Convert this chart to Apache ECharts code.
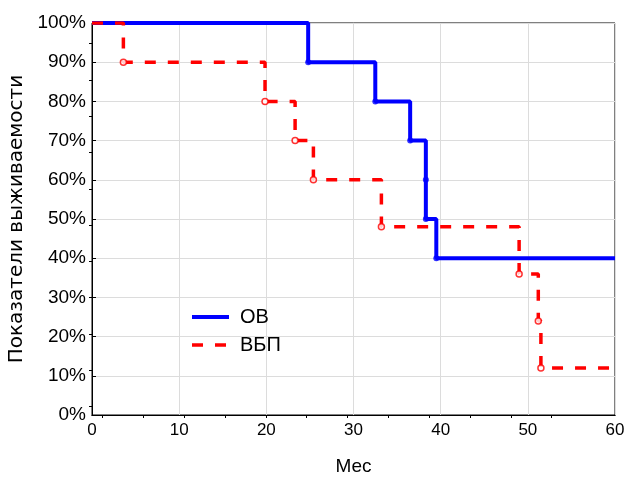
<!DOCTYPE html>
<html lang="ru">
<head>
    <meta charset="utf-8">
    <title>Выживаемость</title>
    <script src="https://cdn.jsdelivr.net/npm/echarts@6/dist/echarts.min.js"></script>
    <style>
        html, body { margin: 0; padding: 0; background: #fff; }
        #chartView { width: 627px; height: 478px; }
    </style>
</head>
<body>
    <div id="chartView"></div>

    <script>
        // моменты событий (мес) и доля выживших после события (%)
        var ovTimes = [24.8, 32.5, 36.5, 38.3, 38.3, 39.5];
        var ovSurv = [90, 80, 70, 60, 50, 40];
        var vbpTimes = [3.6, 19.85, 23.3, 25.4, 33.2, 49.0, 51.2, 51.5];
        var vbpSurv = [90, 80, 70, 60, 48, 36, 24, 12];
        var seriesNames = ['ОВ', 'ВБП'];
        var xMax = 60;

        // ступенчатая кривая Каплана-Мейера
        function stepLine(times, surv) {
            var pts = [[0, 100]];
            var prev = 100;
            for (var i = 0; i < times.length; i++) {
                pts.push([times[i], prev]);
                pts.push([times[i], surv[i]]);
                prev = surv[i];
            }
            pts.push([xMax, prev]);
            return pts;
        }

        function points(times, surv) {
            var pts = [];
            for (var i = 0; i < times.length; i++) {
                pts.push([times[i], surv[i]]);
            }
            return pts;
        }

        var font = 'Liberation Sans, Arial, sans-serif';
        var myChart = echarts.init(document.getElementById('chartView'), null, { renderer: 'canvas' });

        var option = {
            backgroundColor: '#fff',
            animation: false,
            textStyle: { fontFamily: font },
            grid: {
                left: 92, right: 12, top: 23, bottom: 63,
                outerBoundsMode: 'none',
                containLabel: false,
                show: true, borderColor: '#000', borderWidth: 1
            },
            legend: {
                orient: 'vertical',
                left: 185,
                top: 302,
                itemWidth: 37,
                itemHeight: 2,
                itemGap: 8,
                itemStyle: { opacity: 0 },
                lineStyle: { width: 'inherit' },
                textStyle: { fontSize: 20, color: '#000', fontFamily: font, padding: [0, 0, 0, 6] },
                data: seriesNames
            },
            xAxis: [{
                type: 'value',
                min: 0, max: xMax, interval: 10,
                name: 'Мес',
                nameLocation: 'middle',
                nameGap: 42,
                nameTextStyle: { fontSize: 19, color: '#000' },
                axisLine: { show: true, lineStyle: { color: '#000' } },
                axisTick: { show: false },
                axisLabel: { fontSize: 17, color: '#000', margin: 7 },
                splitLine: { show: true, lineStyle: { color: '#dcdcdc', width: 1 } }
            }, {
                type: 'value',
                position: 'top',
                min: 0, max: xMax,
                axisLine: { show: true, lineStyle: { color: '#000' } },
                axisTick: {
                    show: true, inside: true, length: 3, lineStyle: { color: '#000' },
                    customValues: [1.23, 5.9, 10.6, 15.3, 20.0, 24.6, 29.3, 34.0, 38.7, 43.4, 48.1, 52.7]
                },
                axisLabel: { show: false },
                splitLine: { show: false }
            }],
            yAxis: [{
                type: 'value',
                min: 0, max: 100, interval: 10,
                name: 'Показатели выживаемости',
                nameLocation: 'middle',
                nameGap: 61,
                nameTextStyle: { fontSize: 20, color: '#000', fontFamily: 'DejaVu Sans' },
                axisLine: { show: true, lineStyle: { color: '#000' } },
                axisTick: { show: true, inside: true, length: 4, lineStyle: { color: '#000' } },
                axisLabel: { fontSize: 19, color: '#000', margin: 6, formatter: '{value}%' },
                splitLine: { show: true, lineStyle: { color: '#dcdcdc', width: 1 } }
            }, {
                type: 'value',
                position: 'right',
                min: 0, max: 100,
                axisLine: { show: true, lineStyle: { color: '#000' } },
                axisTick: {
                    show: true, inside: true, length: 3, lineStyle: { color: '#000' },
                    customValues: [2.2, 11.5, 20.7, 30.0, 39.2, 48.5, 57.7, 67.0, 76.2, 85.5, 94.8]
                },
                axisLabel: { show: false },
                splitLine: { show: false }
            }],
            series: [{
                name: 'ОВ',
                type: 'line',
                symbol: 'none',
                z: 3,
                lineStyle: { color: '#0000ff', width: 4 },
                itemStyle: { color: '#0000ff' },
                data: stepLine(ovTimes, ovSurv)
            }, {
                name: 'ОВ-точки',
                type: 'scatter',
                symbol: 'circle',
                symbolSize: 6,
                z: 4,
                itemStyle: { color: '#0000ff' },
                data: points(ovTimes, ovSurv)
            }, {
                name: 'ВБП',
                type: 'line',
                symbol: 'none',
                z: 5,
                lineStyle: { color: '#ff0000', width: 3.5, type: [11, 12] },
                itemStyle: { color: '#ff0000' },
                data: stepLine(vbpTimes, vbpSurv)
            }, {
                name: 'ВБП-точки',
                type: 'scatter',
                symbol: 'circle',
                symbolSize: 6,
                z: 6,
                itemStyle: { color: '#fff', borderColor: '#ff0000', borderWidth: 1.5 },
                data: points(vbpTimes, vbpSurv)
            }]
        };

        myChart.setOption(option);
    </script>
</body>
</html>
